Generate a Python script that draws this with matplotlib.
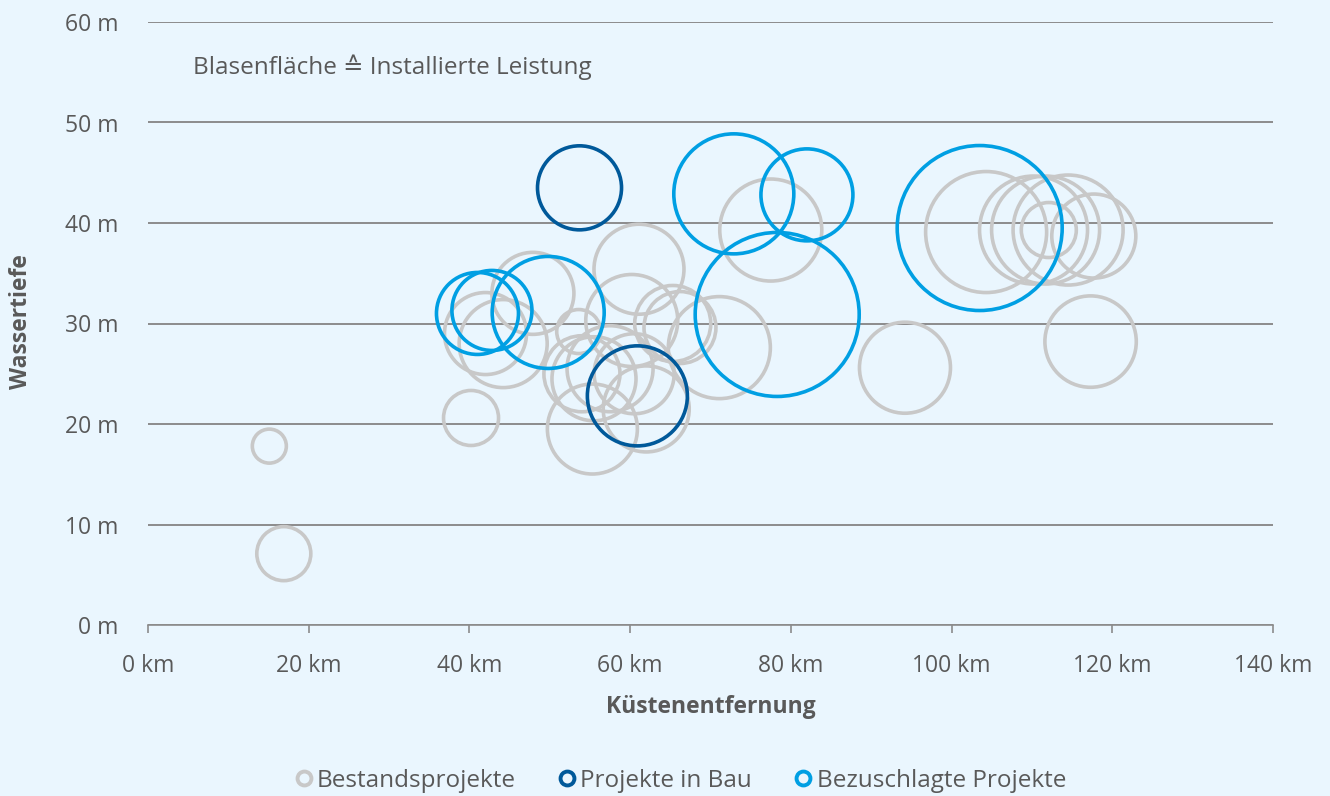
import matplotlib
matplotlib.use("Agg")
import matplotlib.pyplot as plt
from matplotlib.lines import Line2D
import numpy as np

plt.rcParams['font.family'] = ['Open Sans', 'DejaVu Sans']

# ---- data (Küstenentfernung km, Wassertiefe m, installierte Leistung MW) ----
bestand_x = [15.1, 16.9, 40.2, 42.0, 44.2, 47.9, 53.6, 54.0, 55.5, 55.3, 57.5, 60.2, 61.1,
             62.0, 60.5, 65.3, 66.2, 71.1, 77.5, 94.2, 104.3, 110.2, 111.7, 114.5, 112.1,
             117.7, 117.3]
bestand_y = [17.8, 7.1, 20.6, 29.0, 28.0, 33.0, 29.2, 25.0, 24.5, 19.5, 25.5, 30.3, 35.4,
             21.5, 25.0, 30.0, 29.6, 27.6, 39.3, 25.6, 39.1, 39.3, 39.3, 39.3, 39.3,
             38.7, 28.2]
bestand_mw = [86, 217, 225, 500, 576, 500, 144, 430, 525, 602, 550, 629, 602,
              550, 476, 430, 385, 774, 774, 616, 1089, 867, 867, 900, 225,
              525, 621]

bau_x = [53.7, 60.9]
bau_y = [43.5, 22.8]
bau_mw = [525, 744]

zuschlag_x = [41.0, 42.8, 49.8, 72.9, 82.0, 78.3, 103.5]
zuschlag_y = [31.0, 31.3, 31.1, 42.9, 42.8, 30.9, 39.5]
zuschlag_mw = [500, 476, 933, 1071, 629, 2000, 2024]

x_ticks = [0, 20, 40, 60, 80, 100, 120, 140]
y_ticks = [0, 10, 20, 30, 40, 50, 60]
x_ticklabels = [f"{v} km" for v in x_ticks]
y_ticklabels = [f"{v} m" for v in y_ticks]

series_names = ["Bestandsprojekte", "Projekte in Bau", "Bezuschlagte Projekte"]
colors = ["#C8C8C8", "#00599A", "#009FE3"]

# ---- figure ----
W, H, DPI = 1330, 796, 100
bg = "#EAF6FE"
fig = plt.figure(figsize=(W / DPI, H / DPI), dpi=DPI, facecolor=bg)
ax = fig.add_axes([148 / W, 1 - 625 / H, (1273 - 148) / W, (625 - 22) / H])
ax.set_facecolor(bg)

REF_MW, REF_R = 2000.0, 82.0  # bubble area ~ capacity; radius in px for REF_MW


def sizes(mw):
    r_px = REF_R * np.sqrt(np.asarray(mw) / REF_MW)
    d_pt = 2 * r_px * 72 / DPI
    return d_pt ** 2


lw = 2.6
for xs, ys, mw, c, z in [(bestand_x, bestand_y, bestand_mw, colors[0], 3),
                         (bau_x, bau_y, bau_mw, colors[1], 4),
                         (zuschlag_x, zuschlag_y, zuschlag_mw, colors[2], 5)]:
    ax.scatter(xs, ys, s=sizes(mw), facecolors="none", edgecolors=c,
               linewidths=lw, zorder=z)

ax.set_xlim(0, 140)
ax.set_ylim(0, 60)
ax.set_xticks(x_ticks)
ax.set_xticklabels(x_ticklabels)
ax.set_yticks(y_ticks)
ax.set_yticklabels(y_ticklabels)

txt = "#595959"
fs = 16.5
ax.tick_params(axis="y", length=0, pad=21.5, labelsize=fs, labelcolor=txt)
ax.tick_params(axis="x", length=6, width=1.2, color="#8C8C8C", pad=15,
               labelsize=fs, labelcolor=txt)
for sp in ["top", "right", "left"]:
    ax.spines[sp].set_visible(False)
ax.spines["bottom"].set_color("#8C8C8C")
ax.spines["bottom"].set_linewidth(1.2)
ax.grid(axis="y", color="#8C8C8C", linewidth=1.4, zorder=1)
ax.set_axisbelow(True)

ax.set_xlabel("Küstenentfernung", fontsize=16.5, fontweight="bold", color=txt)
ax.set_ylabel("Wassertiefe", fontsize=16.5, fontweight="bold", color=txt)
ax.xaxis.set_label_coords(0.5, (625 - 707) / (625 - 22))
ax.xaxis.label.set_va("center")
ax.yaxis.set_label_coords((21 - 148) / (1273 - 148), (625 - 322) / (625 - 22))
ax.yaxis.label.set_va("center")
ax.yaxis.label.set_ha("center")

ax.text(193 / W, 1 - 67 / H, "Blasenfläche \u2259 Installierte Leistung",
        transform=fig.transFigure, fontsize=17.5, color=txt, va="center", ha="left")

handles = [Line2D([], [], linestyle="none", marker="o", markersize=10,
                  markerfacecolor="none", markeredgecolor=c, markeredgewidth=2.8)
           for c in colors]
fig.legend(handles, series_names, loc="center", bbox_to_anchor=(680 / W, 1 - 781 / H),
           ncol=3, frameon=False, fontsize=17.5, handletextpad=0.15,
           columnspacing=1.7, labelcolor=txt, handlelength=0.8)

fig.savefig("out.png", dpi=DPI, facecolor=bg)
